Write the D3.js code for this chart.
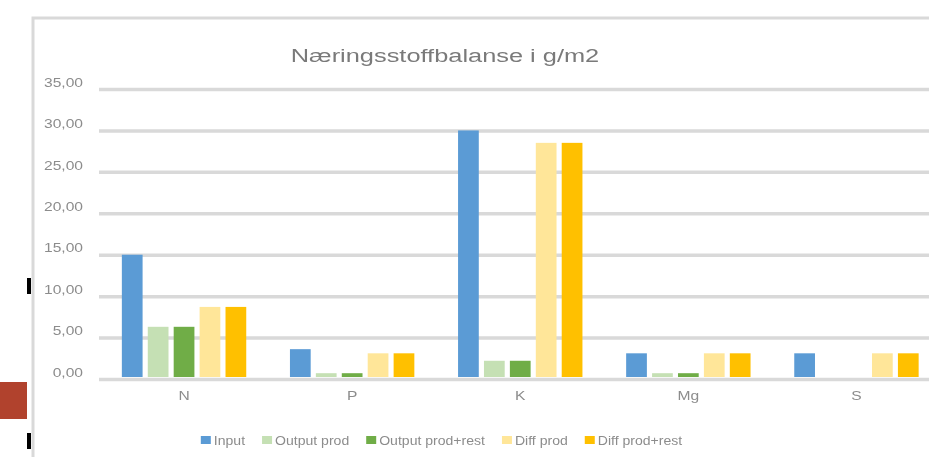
<!DOCTYPE html>
<html lang="no">
<head>
  <meta charset="UTF-8">
  <title>Næringsstoffbalanse i g/m2</title>
  <script src="https://d3js.org/d3.v7.min.js"></script>
  <style>
    body { margin: 0; background: #fff; }
    text { font-family: "Liberation Sans", Arial, sans-serif; fill: #7a7a7a; }
    .grid line { stroke: #d9d9d9; stroke-width: 3.5; }
  </style>
</head>
<body>
  <div id="chart"></div>
  <script>
    // data
    const nutrients = ["N", "P", "K", "Mg", "S"];
    const seriesNames = ["Input", "Output prod", "Output prod+rest", "Diff prod", "Diff prod+rest"];
    const input          = [15.0, 3.6, 30.0, 3.1, 3.1];
    const outputProd     = [6.3, 0.7, 2.2, 0.7, 0];
    const outputProdRest = [6.3, 0.7, 2.2, 0.7, 0];
    const diffProd       = [8.7, 3.1, 28.5, 3.1, 3.1];
    const diffProdRest   = [8.7, 3.1, 28.5, 3.1, 3.1];
    const yTicks = [0, 5, 10, 15, 20, 25, 30, 35];
    const yTickLabels = ["0,00", "5,00", "10,00", "15,00", "20,00", "25,00", "30,00", "35,00"];

    const seriesValues = [input, outputProd, outputProdRest, diffProd, diffProdRest];
    const colors = ["#5b9bd5", "#c5e0b4", "#70ad47", "#ffe699", "#ffc000"];

    const width = 929, height = 457;
    const plot = {left: 100, right: 940.5, top: 89, bottom: 379};

    const svg = d3.select("#chart").append("svg")
      .attr("width", width)
      .attr("height", height);

    const defs = svg.append("defs");
    defs.append("filter").attr("id", "soft")
      .attr("x", "-5%").attr("y", "-20%").attr("width", "110%").attr("height", "140%")
      .append("feGaussianBlur").attr("stdDeviation", 0.65);

    // frame of the chart area
    svg.append("rect")
      .attr("x", 33).attr("y", 18)
      .attr("width", 1000).attr("height", 1000)
      .attr("fill", "none")
      .attr("stroke", "#d9d9d9")
      .attr("stroke-width", 3);

    // stray marks on the left edge
    svg.append("rect").attr("x", 0).attr("y", 382).attr("width", 27).attr("height", 37).attr("fill", "#b1422d");
    svg.append("rect").attr("x", 27).attr("y", 278).attr("width", 4).attr("height", 16).attr("fill", "#000");
    svg.append("rect").attr("x", 27).attr("y", 433).attr("width", 4).attr("height", 16).attr("fill", "#000");

    const x0 = d3.scaleBand()
      .domain(nutrients)
      .range([plot.left, plot.right])
      .paddingInner(0.26)
      .paddingOuter(0.13);

    const x1 = d3.scaleBand()
      .domain(seriesNames)
      .range([0, x0.bandwidth()])
      .paddingInner(0.2);

    const y = d3.scaleLinear()
      .domain([0, 35])
      .range([plot.bottom, plot.top]);

    // gridlines
    svg.append("g")
      .attr("class", "grid")
      .attr("transform", `translate(${plot.left - 1},0)`)
      .call(d3.axisLeft(y).tickValues(yTicks).tickSize(-(plot.right - plot.left + 1)).tickFormat(""))
      .call(g => g.select(".domain").remove());

    // bars
    const rows = [];
    nutrients.forEach((n, i) => {
      seriesNames.forEach((s, j) => rows.push({nutrient: n, series: s, value: seriesValues[j][i], color: colors[j]}));
    });

    svg.append("g")
      .selectAll("rect")
      .data(rows.filter(d => d.value > 0))
      .join("rect")
        .attr("x", d => x0(d.nutrient) + x1(d.series))
        .attr("y", d => y(d.value))
        .attr("width", x1.bandwidth())
        .attr("height", d => y(0) - 2 - y(d.value))
        .attr("fill", d => d.color);

    const txt = svg.append("g").attr("filter", "url(#soft)");

    // y axis labels
    txt.append("g")
      .attr("transform", `translate(${plot.left},0)`)
      .call(d3.axisLeft(y).tickValues(yTicks).tickSize(0).tickPadding(17)
        .tickFormat((d, i) => yTickLabels[i]))
      .call(g => g.select(".domain").remove())
      .selectAll("text")
        .attr("y", -7)
        .style("font-size", "13px")
        .style("fill", "#8c8c8c");

    // x axis labels
    txt.append("g")
      .attr("transform", `translate(0,${plot.bottom})`)
      .call(d3.axisBottom(x0).tickSize(0).tickPadding(12))
      .call(g => g.select(".domain").remove())
      .selectAll("text")
        .style("font-size", "13px")
        .style("fill", "#8c8c8c");

    // title
    txt.append("text")
      .attr("x", 445)
      .attr("y", 62)
      .attr("text-anchor", "middle")
      .style("font-size", "18px")
      .style("fill", "#7a7a7a")
      .text("Næringsstoffbalanse i g/m2")
      .each(function () {
        const w = this.getComputedTextLength();
        d3.select(this).attr("textLength", w * 1.41).attr("lengthAdjust", "spacingAndGlyphs");
      });

    // stretch axis labels a little, like the reference
    txt.selectAll(".tick text").each(function () {
      const w = this.getComputedTextLength();
      d3.select(this).attr("textLength", w * 1.2).attr("lengthAdjust", "spacingAndGlyphs");
    });

    // legend
    const legend = svg.append("g");
    let cx = 0;
    seriesNames.forEach((s, j) => {
      const item = legend.append("g").attr("transform", `translate(${cx},0)`);
      item.append("rect")
        .attr("x", 0).attr("y", -4)
        .attr("width", 10).attr("height", 8)
        .attr("fill", colors[j]);
      const t = item.append("text")
        .attr("x", 13).attr("y", 4.5)
        .attr("filter", "url(#soft)")
        .style("font-size", "12px")
        .style("fill", "#8c8c8c")
        .text(s);
      const w = t.node().getComputedTextLength() * 1.17;
      t.attr("textLength", w).attr("lengthAdjust", "spacingAndGlyphs");
      cx += 13 + w + 17;
    });
    const legendWidth = cx - 17;
    legend.attr("transform", `translate(${441.5 - legendWidth / 2},440)`);
  </script>
</body>
</html>
